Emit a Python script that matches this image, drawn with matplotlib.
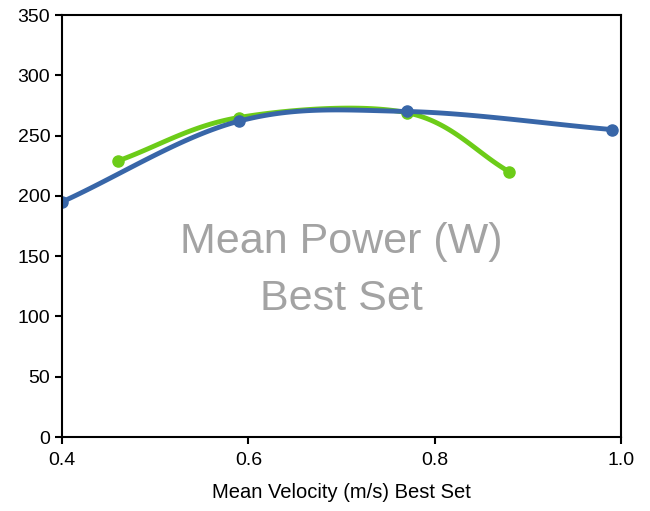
import numpy as np
import matplotlib
matplotlib.use("Agg")
import matplotlib.pyplot as plt

# values
blue_x = [0.40, 0.59, 0.77, 0.99]
blue_y = [195, 262, 270, 255]
green_x = [0.46, 0.59, 0.77, 0.88]
green_y = [229, 265, 269, 220]

xticks = [0.4, 0.6, 0.8, 1.0]
yticks = [0, 50, 100, 150, 200, 250, 300, 350]


def smooth(xs, ys, n=40):
    # Catmull-Rom curve through the points, only for drawing the line
    px = np.array(xs, float)
    py = np.array(ys, float)
    px = np.concatenate([[2 * px[0] - px[1]], px, [2 * px[-1] - px[-2]]])
    py = np.concatenate([[2 * py[0] - py[1]], py, [2 * py[-1] - py[-2]]])
    outx, outy = [], []
    t = np.linspace(0, 1, n)
    for i in range(1, len(px) - 2):
        for arr, out in ((px, outx), (py, outy)):
            p0, p1, p2, p3 = arr[i - 1], arr[i], arr[i + 1], arr[i + 2]
            out.extend(0.5 * (2 * p1 + (-p0 + p2) * t
                              + (2 * p0 - 5 * p1 + 4 * p2 - p3) * t ** 2
                              + (-p0 + 3 * p1 - 3 * p2 + p3) * t ** 3))
    return outx, outy


plt.rcParams['font.family'] = ['Liberation Sans', 'DejaVu Sans']

fig = plt.figure(figsize=(6.5, 5.11), dpi=100)
ax = fig.add_axes([0.0954, 0.1448, 0.8600, 0.8258])

blue = '#3866a8'
green = '#6ccc18'

sx, sy = smooth(green_x, green_y)
ax.plot(sx, sy, color=green, lw=3.5, solid_capstyle='round')
ax.plot(green_x, green_y, 'o', color=green, ms=8)

sx, sy = smooth(blue_x, blue_y)
ax.plot(sx, sy, color=blue, lw=3.5, solid_capstyle='round')
ax.plot(blue_x, blue_y, 'o', color=blue, ms=8)

ax.text(0.5, 0.395, 'Mean Power (W)\nBest Set', transform=ax.transAxes,
        ha='center', va='center', fontsize=31, color='#a3a3a3',
        linespacing=1.55)

ax.set_xlim(0.4, 1.0)
ax.set_ylim(0, 350)
ax.set_xticks(xticks)
ax.set_xticklabels(['0.4', '0.6', '0.8', '1.0'])
ax.set_yticks(yticks)
ax.tick_params(direction='out', length=5, width=1.5, labelsize=14,
               colors='black')
ax.tick_params(axis='x', pad=6)
for s in ax.spines.values():
    s.set_linewidth(1.5)
ax.set_xlabel('Mean Velocity (m/s) Best Set', fontsize=14.5, labelpad=10)

fig.savefig('out.png', dpi=100)
